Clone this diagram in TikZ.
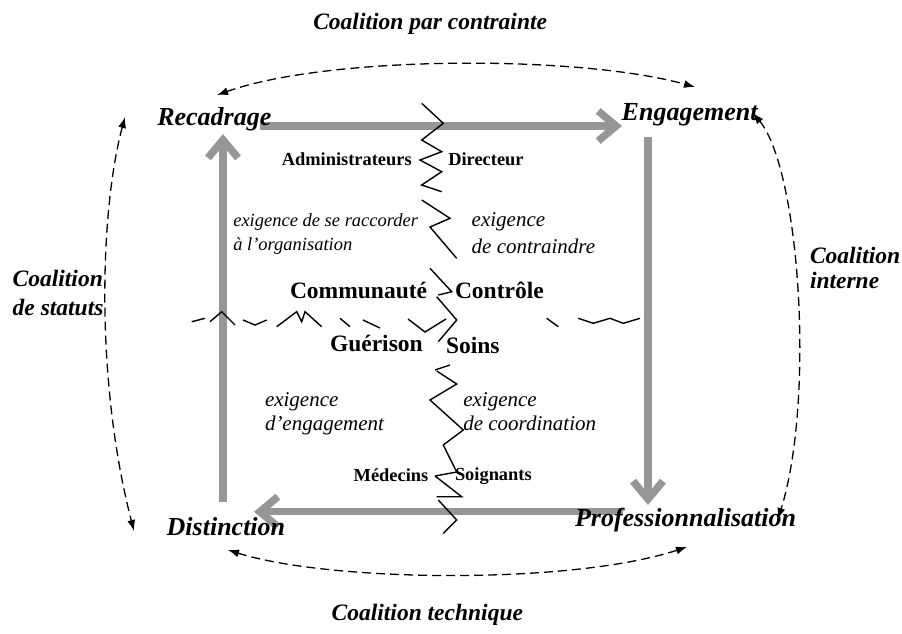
\documentclass[tikz,border=0pt]{standalone}
\usepackage{fontspec}
\setmainfont{Liberation Serif}
\usetikzlibrary{arrows.meta}
\definecolor{bargray}{RGB}{150,150,150}
\begin{document}
\begin{tikzpicture}[x=1pt,y=-1pt,
  lbl/.style={inner sep=0pt, outer sep=0pt},
  pole/.style={lbl, font=\fontsize{26}{30}\selectfont\bfseries\itshape},
  coal/.style={lbl, font=\fontsize{23.5}{28}\selectfont\bfseries\itshape},
  actor/.style={lbl, font=\fontsize{18.4}{22}\selectfont\bfseries},
  field/.style={lbl, font=\fontsize{23.5}{28}\selectfont\bfseries},
  req/.style={lbl, font=\fontsize{21}{25}\selectfont\itshape},
  reqs/.style={lbl, font=\fontsize{18.5}{22}\selectfont\itshape},
  flow/.style={draw=bargray, line width=7.5pt, -{Straight Barb[length=18pt,width=30pt]}},
  coalarc/.style={draw, line width=1.3pt, dash pattern=on 9pt off 5pt, {Latex[length=11pt,width=8pt]}-{Latex[length=11pt,width=8pt]}},
  zig/.style={draw, line width=1.4pt, line join=miter},
  zigthin/.style={draw, line width=0.7pt},
]
\fill[white] (0,0) rectangle (902,633);
\useasboundingbox (0,0) rectangle (902,633);

% end points of the gray flows
\coordinate (recOut) at (260,126);
\coordinate (engIn) at (622,126);
\coordinate (engOut) at (648,137);
\coordinate (proIn) at (648,505);
\coordinate (proOut) at (623,511.7);
\coordinate (disIn) at (254,511.7);
\coordinate (disOut) at (223,501.7);
\coordinate (recIn) at (223,134);

\draw[flow] (recOut) -- (engIn);
\draw[flow] (engOut) -- (proIn);
\draw[flow] (proOut) -- (disIn);
\draw[flow] (disOut) -- (recIn);

% end points of the coalition arcs
\coordinate (topA) at (217,95);
\coordinate (topB) at (695,87);
\coordinate (leftA) at (125,117);
\coordinate (leftB) at (134,531);
\coordinate (rightA) at (753,113);
\coordinate (rightB) at (778,519);
\coordinate (botA) at (228,550);
\coordinate (botB) at (687,547);

\draw[coalarc] (topA) .. controls (330,55) and (580,55) .. (topB);
\draw[coalarc] (leftA) .. controls (100,210) and (95,380) .. (leftB);
\draw[coalarc] (rightA) .. controls (800,170) and (815,400) .. (rightB);
\draw[coalarc] (botA) .. controls (330,582) and (570,585) .. (botB);

% vertical broken zigzag
\draw[zig] (421.7,103.3) -- (443.3,123.3) -- (421.7,140) -- (441.7,151.7) -- (420,160) -- (441.7,171.7) -- (421.7,185) -- (441.7,191.7);
\draw[zig] (421.7,200) -- (450,218.3) -- (430,227) -- (456.7,258.3);
\draw[zig] (430,268.3) -- (451.7,291.7) -- (438.3,295);
\draw[zig] (436.7,296.7) -- (456.7,320) -- (438.3,341.7);
\draw[zig] (435,370) -- (450,365);
\draw[zig] (436.7,371) -- (456.7,384) -- (430,400) -- (463.3,430) -- (443.3,445) -- (456.7,472) -- (435,476);
\draw[zig] (435,476) -- (461.7,496.7) -- (436.7,496.7);
\draw[zig] (438.3,500) -- (456.7,520) -- (443.3,533.3);

% horizontal broken zigzag
\draw[zig] (191.7,321.7) -- (205,318.3);
\draw[zig] (210,321.7) -- (221.7,311.7) -- (235,325);
\draw[zig] (243,320) -- (255,325) -- (266.7,320);
\draw[zig] (276.7,326.7) -- (296.7,311.7) -- (301.7,321.7) -- (305,311.7) -- (321.7,326.7);
\draw[zig] (340,318.3) -- (350,326.7);
\draw[zig] (363,320) -- (380,328);
\draw[zig] (408,319) -- (425,332) -- (446,319);
\draw[zig] (546.7,318.3) -- (558.3,326.7);
\draw[zig] (578.3,318.3) -- (593.3,323.3) -- (610,318.3) -- (623.3,323.3) -- (640,318.3);

% labels
\node[coal, anchor=base west] (cpc) at (313.3,29.3) {Coalition par contrainte};
\node[pole, anchor=base west] (rec) at (157.3,125) {Recadrage};
\node[pole, anchor=base west] (eng) at (621.7,120) {Engagement};
\node[pole, anchor=base west] (dis) at (166.7,535) {Distinction};
\node[pole, anchor=base west] (pro) at (575,526.7) {Professionnalisation};
\node[coal, anchor=base west] (cs1) at (12.7,286.7) {Coalition};
\node[coal, anchor=base west] (cs2) at (12.7,315) {de statuts};
\node[coal, anchor=base west] (ci1) at (810,263) {Coalition};
\node[coal, anchor=base west] (ci2) at (810,288.3) {interne};
\node[coal, anchor=base west] (ct) at (331.7,620) {Coalition technique};
\node[actor, anchor=base east] (adm) at (411.7,165) {Administrateurs};
\node[actor, anchor=base west] (dir) at (448.3,165) {Directeur};
\node[reqs, anchor=base west] (ra1) at (233.3,226.7) {exigence de se raccorder};
\node[reqs, anchor=base west] (ra2) at (233.3,250) {à l’organisation};
\node[req, anchor=base west] (co1) at (471.7,226.7) {exigence};
\node[req, anchor=base west] (co2) at (471.7,253.3) {de contraindre};
\node[field, anchor=base west] (com) at (290,298.3) {Communauté};
\node[field, anchor=base west] (ctl) at (455,298.3) {Contrôle};
\node[field, anchor=base west] (gue) at (330,351.7) {Guérison};
\node[field, anchor=base west] (soi) at (446,353.3) {Soins};
\node[req, anchor=base west] (en1) at (265,406.7) {exigence};
\node[req, anchor=base west] (en2) at (265,430) {d’engagement};
\node[req, anchor=base west] (cd1) at (463.3,406.7) {exigence};
\node[req, anchor=base west] (cd2) at (463.3,430) {de coordination};
\node[actor, anchor=base east] (med) at (428.3,481.7) {Médecins};
\node[actor, anchor=base west] (soa) at (455,480.7) {Soignants};
\end{tikzpicture}
\end{document}
